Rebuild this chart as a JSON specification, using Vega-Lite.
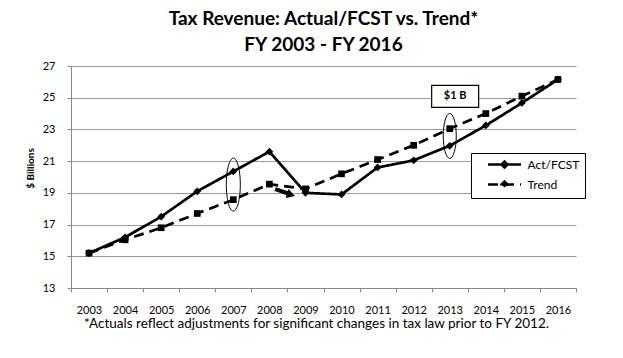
{
  "$schema": "https://vega.github.io/schema/vega-lite/v6.json",
  "autosize": {"type": "none"},
  "width": 505,
  "height": 222,
  "padding": {"left": 71, "top": 66, "right": 47, "bottom": 70},
  "background": "white",
  "config": {
    "font": "Lato",
    "view": {"stroke": null},
    "axis": {"labelFont": "Lato", "titleFont": "Lato", "labelColor": "black", "titleColor": "black"}
  },
  "title": {
    "text": ["Tax Revenue: Actual/FCST vs. Trend*", "FY 2003 - FY 2016"],
    "font": "Lato",
    "fontSize": 19,
    "fontWeight": "bold",
    "color": "black",
    "anchor": "middle",
    "frame": "group",
    "lineHeight": 26,
    "offset": 5
  },
  "datasets": {
    "series": [
      {"year": 2003, "series": "Act/FCST", "value": 15.2},
      {"year": 2004, "series": "Act/FCST", "value": 16.2},
      {"year": 2005, "series": "Act/FCST", "value": 17.5},
      {"year": 2006, "series": "Act/FCST", "value": 19.1},
      {"year": 2007, "series": "Act/FCST", "value": 20.35},
      {"year": 2008, "series": "Act/FCST", "value": 21.6},
      {"year": 2009, "series": "Act/FCST", "value": 19.0},
      {"year": 2010, "series": "Act/FCST", "value": 18.9},
      {"year": 2011, "series": "Act/FCST", "value": 20.6},
      {"year": 2012, "series": "Act/FCST", "value": 21.05},
      {"year": 2013, "series": "Act/FCST", "value": 21.97},
      {"year": 2014, "series": "Act/FCST", "value": 23.25},
      {"year": 2015, "series": "Act/FCST", "value": 24.67},
      {"year": 2016, "series": "Act/FCST", "value": 26.15},
      {"year": 2003, "series": "Trend", "value": 15.2},
      {"year": 2004, "series": "Trend", "value": 16.04},
      {"year": 2005, "series": "Trend", "value": 16.8},
      {"year": 2006, "series": "Trend", "value": 17.7},
      {"year": 2007, "series": "Trend", "value": 18.57},
      {"year": 2008, "series": "Trend", "value": 19.55},
      {"year": 2009, "series": "Trend", "value": 19.25},
      {"year": 2010, "series": "Trend", "value": 20.2},
      {"year": 2011, "series": "Trend", "value": 21.1},
      {"year": 2012, "series": "Trend", "value": 22.0},
      {"year": 2013, "series": "Trend", "value": 23.05},
      {"year": 2014, "series": "Trend", "value": 24.0},
      {"year": 2015, "series": "Trend", "value": 25.1},
      {"year": 2016, "series": "Trend", "value": 26.15}
    ]
  },
  "encoding": {
    "x": {
      "field": "year", "type": "quantitative",
      "scale": {"domain": [2002.5, 2016.5], "nice": false, "zero": false},
      "axis": {
        "values": [2002.5, 2003.5, 2004.5, 2005.5, 2006.5, 2007.5, 2008.5, 2009.5, 2010.5, 2011.5, 2012.5, 2013.5, 2014.5, 2015.5, 2016.5],
        "labelExpr": "datum.value < 2016 ? format(datum.value + 0.5, 'd') : ''",
        "labelOffset": 18,
        "labelAlign": "center",
        "labelOverlap": false,
        "labelFlush": false,
        "labelFontSize": 11,
        "labelPadding": 12,
        "tickSize": 4,
        "tickColor": "#888888",
        "domainColor": "#888888",
        "grid": false,
        "title": "*Actuals  reflect adjustments for significant changes in tax law prior to FY 2012.",
        "titleFontSize": 13.5,
        "titleFontWeight": "normal",
        "titleX": 245,
        "titleY": 39,
        "titleAlign": "center",
        "titleBaseline": "alphabetic"
      }
    },
    "y": {
      "field": "value", "type": "quantitative",
      "scale": {"domain": [13, 27], "nice": false, "zero": false},
      "axis": {
        "values": [13, 15, 17, 19, 21, 23, 25, 27],
        "labelOverlap": false,
        "labelFlush": false,
        "labelFontSize": 11,
        "labelPadding": 12,
        "tickSize": 4,
        "tickColor": "#888888",
        "domainColor": "#888888",
        "gridColor": "#9a9a9a",
        "gridWidth": 1,
        "title": "$ Billions",
        "titleFontSize": 10,
        "titleFontWeight": "bold",
        "titleAngle": -90,
        "titleX": -41,
        "titleY": 102,
        "titleAlign": "center",
        "titleBaseline": "middle"
      }
    }
  },
  "layer": [
    {
      "data": {"name": "series"},
      "mark": {"type": "line", "color": "black", "strokeWidth": 2.7},
      "encoding": {
        "strokeDash": {
          "field": "series", "type": "nominal",
          "scale": {"domain": ["Act/FCST", "Trend"], "range": [[1, 0], [10, 6]]},
          "legend": {
            "title": null,
            "orient": "none",
            "legendX": 400,
            "legendY": 87,
            "strokeColor": "black",
            "fillColor": "white",
            "padding": 5,
            "symbolType": "M-3.3,0H3.3M-0.6,0L0,-0.6L0.6,0L0,0.6Z",
            "symbolSize": 100,
            "symbolStrokeColor": "black",
            "symbolFillColor": "black",
            "symbolStrokeWidth": 2.5,
            "symbolOffset": 22,
            "labelFont": "Lato",
            "labelFontSize": 12,
            "labelColor": "black",
            "labelOffset": 16.5,
            "rowPadding": 3
          }
        }
      }
    },
    {
      "data": {"name": "series"},
      "transform": [{"filter": "datum.series === 'Act/FCST'"}],
      "mark": {"type": "point", "shape": "diamond", "filled": true, "color": "black", "size": 60, "opacity": 1}
    },
    {
      "data": {"name": "series"},
      "transform": [{"filter": "datum.series === 'Trend'"}],
      "mark": {"type": "point", "shape": "square", "filled": true, "color": "black", "size": 45, "opacity": 1}
    },
    {
      "data": {"values": [{"year": 2007.0, "value": 19.52}]},
      "mark": {"type": "point", "shape": "M0,-1A0.264,1 0 1,1 0,1A0.264,1 0 1,1 0,-1Z", "size": 2809, "filled": false, "stroke": "black", "strokeWidth": 1, "opacity": 1}
    },
    {
      "data": {"values": [{"year": 2013.0, "value": 22.59}]},
      "mark": {"type": "point", "shape": "M0,-1A0.289,1 0 1,1 0,1A0.289,1 0 1,1 0,-1Z", "size": 2025, "filled": false, "stroke": "black", "strokeWidth": 1, "opacity": 1}
    },
    {
      "data": {"values": [{"year": 2008.16, "value": 19.23, "year2": 2008.52, "value2": 18.96}]},
      "mark": {"type": "rule", "color": "black", "strokeWidth": 4},
      "encoding": {
        "x2": {"field": "year2"},
        "y2": {"field": "value2"}
      }
    },
    {
      "data": {"values": [{"year": 2008.6, "value": 18.88}]},
      "mark": {"type": "point", "shape": "triangle-right", "size": 90, "filled": true, "color": "black", "angle": 18, "opacity": 1}
    },
    {
      "data": {"values": [{"year": 2013.15, "value": 25.09, "label": "$1 B"}]},
      "mark": {"type": "point", "shape": "M-1,-0.468H1V0.468H-1Z", "size": 2209, "filled": true, "fill": "white", "stroke": "black", "strokeWidth": 1.2, "opacity": 1}
    },
    {
      "data": {"values": [{"year": 2013.15, "value": 25.09, "label": "$1 B"}]},
      "mark": {"type": "text", "font": "Lato", "fontSize": 11, "fontWeight": "bold", "color": "black", "baseline": "middle", "align": "center"},
      "encoding": {
        "text": {"field": "label"}
      }
    }
  ]
}
